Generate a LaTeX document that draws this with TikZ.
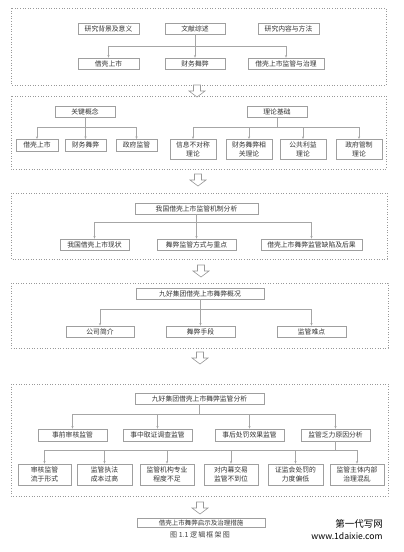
\documentclass[tikz,border=0pt]{standalone}
\usepackage{fontspec}
\setmainfont{Noto Sans CJK SC}
\newfontfamily\cjk{Noto Sans CJK SC}
\usetikzlibrary{arrows.meta}
\tikzset{
  box/.style={draw=gray!75, line width=0.7pt, fill=white, inner sep=0pt,
    text=black!80, font=\fontsize{6.8}{8.6}\selectfont, align=center},
  panel/.style={draw=gray!80, line width=0.6pt, dotted},
  conn/.style={draw=gray!70, line width=0.5pt},
  arr/.style={conn, -{Stealth[length=2.6pt,width=2.2pt]}},
  hollowarr/.pic={\draw[gray!80, line width=0.6pt, fill=white] (-3.5,0) -- (3.5,0) -- (3.5,6) -- (8,6) -- (0,12) -- (-8,6) -- (-3.5,6) -- cycle;}
}
\begin{document}
\begin{tikzpicture}[x=1pt,y=-1pt]
\useasboundingbox (0,0) rectangle (404,552);
\fill[white] (0,0) rectangle (404,552);

% ---------- panel 1
\draw[panel] (11,8) rectangle (386,85);
\node[box, minimum width=61, minimum height=11] (p1a) at (108.5,28.5) {研究背景及意义};
\node[box, minimum width=60, minimum height=11] (p1b) at (195,28.5) {文献综述};
\node[box, minimum width=61, minimum height=11] (p1c) at (288.5,28.5) {研究内容与方法};
\node[box, minimum width=61, minimum height=11] (q1a) at (108.5,63.5) {借壳上市};
\node[box, minimum width=60, minimum height=11] (q1b) at (195,63.5) {财务舞弊};
\node[box, minimum width=76, minimum height=11] (q1c) at (286,63.5) {借壳上市监管与治理};
\coordinate (j1) at (195,46);
\draw[conn] (p1b.south) -- (j1);
\draw[conn] (q1a.north |- j1) -- (q1c.north |- j1);
\foreach \n in {q1a,q1b,q1c} \draw[arr] (\n.north |- j1) -- (\n.north);

\pic at (197,85) {hollowarr};

% ---------- panel 2
\draw[panel] (11,96) rectangle (386,169);
\node[box, minimum width=60, minimum height=11] (k) at (85,112) {关键概念};
\node[box, minimum width=60, minimum height=11] (l) at (277,112) {理论基础};
\node[box, minimum width=42, minimum height=12, anchor=north] (k1) at (37,139) {借壳上市};
\node[box, minimum width=41, minimum height=12, anchor=north] (k2) at (85.5,139) {财务舞弊};
\node[box, minimum width=41, minimum height=12, anchor=north] (k3) at (136.5,139) {政府监管};
\node[box, minimum width=46, minimum height=20, anchor=north] (l1) at (193,139) {信息不对称\\理论};
\node[box, minimum width=46, minimum height=20, anchor=north] (l2) at (249,139) {财务舞弊相\\关理论};
\node[box, minimum width=46, minimum height=20, anchor=north] (l3) at (303,139) {公共利益\\理论};
\node[box, minimum width=46, minimum height=20, anchor=north] (l4) at (359,139) {政府管制\\理论};
\coordinate (j2) at (85,127);
\coordinate (j3) at (277,127);
\draw[conn] (k.south) -- (j2);
\draw[conn] (k1.north |- j2) -- (k3.north |- j2);
\foreach \n in {k1,k2,k3} \draw[arr] (\n.north |- j2) -- (\n.north);
\draw[conn] (l.south) -- (j3);
\draw[conn] (l1.north |- j3) -- (l4.north |- j3);
\foreach \n in {l1,l2,l3,l4} \draw[arr] (\n.north |- j3) -- (\n.north);

\pic at (198,174) {hollowarr};

% ---------- panel 3
\draw[panel] (11,193) rectangle (387,259);
\node[box, minimum width=123, minimum height=11] (m) at (196.5,208.5) {我国借壳上市监管机制分析};
\node[box, minimum width=69, minimum height=11] (m1) at (94.5,244.5) {我国借壳上市现状};
\node[box, minimum width=79, minimum height=11] (m2) at (196.5,244.5) {舞弊监管方式与重点};
\node[box, minimum width=101, minimum height=11] (m3) at (311.5,244.5) {借壳上市舞弊监管缺陷及后果};
\coordinate (j4) at (196.5,222);
\draw[conn] (m.south) -- (j4);
\draw[conn] (m1.north |- j4) -- (m3.north |- j4);
\foreach \n in {m1,m2,m3} \draw[arr] (\n.north |- j4) -- (\n.north);

\pic at (201,265) {hollowarr};

% ---------- panel 4
\draw[panel] (11,283) rectangle (388,348);
\node[box, minimum width=128, minimum height=11] (n) at (200,293.5) {九好集团借壳上市舞弊概况};
\node[box, minimum width=68, minimum height=11] (n1) at (100,331.5) {公司简介};
\node[box, minimum width=69, minimum height=11] (n2) at (200.5,331.5) {舞弊手段};
\node[box, minimum width=69, minimum height=11] (n3) at (311.5,331.5) {监管难点};
\coordinate (j5) at (200,309);
\draw[conn] (n.south) -- (j5);
\draw[conn] (n1.north |- j5) -- (n3.north |- j5);
\foreach \n in {n1,n2,n3} \draw[arr] (\n.north |- j5) -- (\n.north);

\pic at (200,352) {hollowarr};

% ---------- panel 5
\draw[panel] (11,384) rectangle (388,496);
\node[box, minimum width=129, minimum height=11] (r) at (199.5,398.5) {九好集团借壳上市舞弊监管分析};
\node[box, minimum width=69, minimum height=12] (r1) at (72.5,435) {事前审核监管};
\node[box, minimum width=69, minimum height=12] (r2) at (157.5,435) {事中取证调查监管};
\node[box, minimum width=69, minimum height=12] (r3) at (249.5,435) {事后处罚效果监管};
\node[box, minimum width=69, minimum height=12] (r4) at (335.5,435) {监管乏力原因分析};
\coordinate (j6) at (199.5,414);
\draw[conn] (r.south) -- (j6);
\draw[conn] (r1.north |- j6) -- (r4.north |- j6);
\foreach \n in {r1,r2,r3,r4} \draw[arr] (\n.north |- j6) -- (\n.north);
\node[box, minimum width=53, minimum height=21] (s1) at (44.5,474.5) {审核监管\\流于形式};
\node[box, minimum width=55, minimum height=21] (s2) at (104.5,474.5) {监管执法\\成本过高};
\node[box, minimum width=54, minimum height=21] (s3) at (167,474.5) {监管机构专业\\程度不足};
\node[box, minimum width=54, minimum height=21] (s4) at (231,474.5) {对内幕交易\\监管不到位};
\node[box, minimum width=55, minimum height=21] (s5) at (295.5,474.5) {证监会处罚的\\力度偏低};
\node[box, minimum width=54, minimum height=21] (s6) at (357,474.5) {监管主体内部\\治理混乱};
\coordinate (j7) at (335.5,450);
\draw[conn] (r4.south) -- (j7);
\draw[conn] (s1.north |- j7) -- (s6.north |- j7);
\foreach \n in {s1,s2,s3,s4,s5,s6} \draw[arr] (\n.north |- j7) -- (\n.north);

\pic at (200,502) {hollowarr};

% ---------- final
\node[box, minimum width=128, minimum height=9, font=\fontsize{6.5}{8}\selectfont] (f) at (201,523) {借壳上市舞弊启示及治理措施};
\node[text=black!75, font=\fontsize{7}{8}\selectfont, inner sep=0pt] (cap) at (200,534.5) {图\ 1.1\ 逻\,辑\,框\,架\,图};

% watermark
\node[text=black, font=\fontsize{9.5}{10}\selectfont, inner sep=0pt] (w1) at (359,524) {第一代写网};
\node[text=black, font=\fontsize{8.6}{10}\selectfont, inner sep=0pt] (w2) at (347,536.5) {www.1daixie.com};
\end{tikzpicture}
\end{document}
